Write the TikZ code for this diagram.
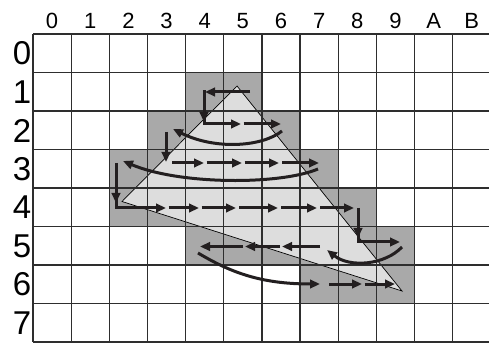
\documentclass[tikz,border=0pt]{standalone}
\usepackage{fontspec}
\setmainfont{Liberation Sans}
\usetikzlibrary{arrows.meta}
\definecolor{cellc}{HTML}{A9A9A9}
\definecolor{tric}{HTML}{DDDDDD}
\definecolor{gridc}{HTML}{2E2E2E}
\definecolor{arrc}{HTML}{231F20}
\tikzset{
  arr/.style={draw=arrc, line width=3pt, -{Triangle[length=10pt,width=8.5pt]}},
  arrline/.style={draw=arrc, line width=3pt, line join=miter},
  gridline/.style={draw=gridc, line width=1.3pt},
  collab/.style={anchor=base, inner sep=0pt, font=\fontsize{22}{22}\selectfont},
  rowlab/.style={anchor=east, inner sep=0pt, font=\fontsize{33}{33}\selectfont},
}
\newcommand{\cellfill}[2]{\fill[cellc] ({33+38.15*#1},{34+38.5*#2}) rectangle ({33+38.15*(#1+1)},{34+38.5*(#2+1)});}
\begin{document}
\begin{tikzpicture}[x=1pt,y=-1pt]
\useasboundingbox (0,0) rectangle (489,344);
\clip (0,0) rectangle (489,344);
\fill[white] (0,0) rectangle (489,344);
% dark cells
\foreach \c in {4,5} {\cellfill{\c}{1}}
\foreach \c in {3,4,5,6} {\cellfill{\c}{2}}
\foreach \c in {2,...,7} {\cellfill{\c}{3}}
\foreach \c in {2,...,8} {\cellfill{\c}{4}}
\foreach \c in {4,...,9} {\cellfill{\c}{5}}
\foreach \c in {7,8,9} {\cellfill{\c}{6}}
% triangle
\coordinate (ta) at (237,86);
\coordinate (tb) at (122,201.5);
\coordinate (tc) at (402,291);
\filldraw[fill=tric, draw=black, line width=0.7pt] (ta) -- (tb) -- (tc) -- cycle;
% grid
\foreach \i in {0,...,12} \draw[gridline] ({33+38.15*\i},34) -- ({33+38.15*\i},342.3);
\foreach \j in {0,...,8} \draw[gridline] (33,{34+38.5*\j}) -- (495,{34+38.5*\j});
% labels
\foreach \t [count=\i from 0] in {0,1,2,3,4,5,6,7,8,9,A,B}
  \node[collab] (c\i) at ({33+38.15*\i+19.1},28.3) {\t};
\foreach \j in {0,...,7}
  \node[rowlab] (r\j) at (31.5,{34+38.5*\j+19.6}) {\j};
% scan path
% row 1
\draw[arr] (250,92) -- (205,92);
\draw[arrline] (204,90.5) -- (204,124) -- (212,124);
\draw[arr] (204,100) -- (204,122);
% row 2
\draw[arr] (210,124) -- (241,124);
\draw[arr] (243.5,124) -- (281,124);
\draw[arr] (282,131) .. controls (262,147) and (215,150) .. (173,129);
\draw[arr] (166,132) -- (166,162);
% row 3
\draw[arr] (172,163) -- (204,163);
\draw[arr] (206.5,163) -- (242,163);
\draw[arr] (244.5,163) -- (279,163);
\draw[arr] (282,163) -- (319,163);
\draw[arr] (318,169) .. controls (280,185) and (180,185) .. (123,161);
\draw[arr] (116,163) -- (116,203);
\draw[arrline] (116,195) -- (116,208) -- (124,208);
% row 4
\draw[arr] (120,208) -- (166,208);
\draw[arr] (168.5,208) -- (199,208);
\draw[arr] (201.5,208) -- (236,208);
\draw[arr] (239,208) -- (278,208);
\draw[arr] (281,208) -- (317,208);
\draw[arr] (320,208) -- (354,208);
\draw[arr] (358,208) -- (358,238);
\draw[arrline] (358,230) -- (358,242) -- (366,242);
% row 5
\draw[arr] (362,242) -- (400,242);
\draw[arr] (402,247) .. controls (385,265) and (350,268) .. (327,250);
\draw[arr] (320,246.5) -- (282,246.5);
\draw[arr] (280,246.5) -- (245,246.5);
\draw[arr] (243,246.5) -- (200,246.5);
\draw[arr] (198,253) .. controls (230,272) and (260,284) .. (320,284);
% row 6
\draw[arr] (329,284) -- (362,284);
\draw[arr] (364.5,284) -- (395,284);
\end{tikzpicture}
\end{document}
